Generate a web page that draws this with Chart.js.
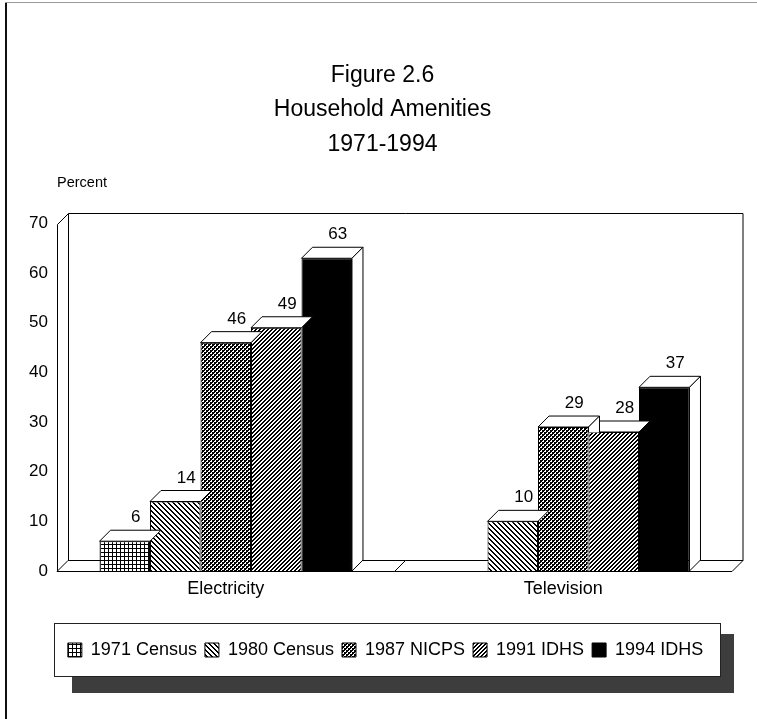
<!DOCTYPE html>
<html>
<head>
<meta charset="utf-8">
<title>Figure 2.6 Household Amenities 1971-1994</title>
<script src="https://cdn.jsdelivr.net/npm/chart.js@4/dist/chart.umd.min.js"></script>
<style>
html, body { margin: 0; padding: 0; background: #fff; }
</style>
</head>
<body>
<canvas id="chart" width="757" height="719"></canvas>
<script>
// data
var categories = ['Electricity', 'Television'];
var seriesNames = ['1971 Census', '1980 Census', '1987 NICPS', '1991 IDHS', '1994 IDHS'];
var census1971 = [6, null];
var census1980 = [14, 10];
var nicps1987 = [46, 29];
var idhs1991 = [49, 28];
var idhs1994 = [63, 37];
var yMin = 0, yMax = 70, yStep = 10;
var titleLines = ['Figure 2.6', 'Household Amenities', '1971-1994'];
var yAxisLabel = 'Percent';

var DX = 11, DY = 11; // fake 3d depth

Chart.defaults.font.family = '"Liberation Sans", Arial, Helvetica, sans-serif';
Chart.defaults.color = '#000';

/**
 * build a repeating b/w pattern from a pixel rule
 */
function makePattern(size, fn) {
    var c = document.createElement('canvas');
    c.width = size;
    c.height = size;
    var g = c.getContext('2d');
    g.fillStyle = '#fff';
    g.fillRect(0, 0, size, size);
    g.fillStyle = '#000';
    for(var x = 0; x < size; x++) {
        for(var y = 0; y < size; y++) {
            if(fn(x, y)) g.fillRect(x, y, 1, 1);
        }
    }
    return g.createPattern(c, 'repeat');
}

var fills = [
    makePattern(4, function(x, y) { return x == 0 || y == 0; }),                          // grid
    makePattern(5, function(x, y) { var d = (x - y + 5) % 5; return d == 0 || d == 1; }),  // \\\
    makePattern(4, function(x, y) {                                                        // dense check
        return ((x >> 1) + (y >> 1)) % 2 == 0 || (x % 2 == 0 && y % 2 == 0);
    }),
    makePattern(4, function(x, y) { return (x + y) % 4 < 2; }),                            // ///
    '#000'
];
var values = [census1971, census1980, nicps1987, idhs1991, idhs1994];

var datasets = [];
for(var i = 0; i < seriesNames.length; i++) {
    datasets.push({
        label: seriesNames[i],
        data: values[i],
        backgroundColor: fills[i],
        borderColor: '#000',
        borderWidth: 1,
        barPercentage: 1.0,
        categoryPercentage: 0.748,
    });
}

function poly(ctx, pts) {
    ctx.beginPath();
    ctx.moveTo(pts[0][0], pts[0][1]);
    for(var i = 1; i < pts.length; i++) ctx.lineTo(pts[i][0], pts[i][1]);
    ctx.closePath();
}

var box3d = {
    id: 'box3d',

    afterLayout: function(chart) {
        // nudge title and legend a bit right, legend down, like the print
        var tb = chart.titleBlock;
        tb.left += 13;
        tb.right += 13;

        var lg = chart.legend;
        var h = lg.bottom - lg.top;
        lg.left += 16;
        lg.right += 16;
        lg.top = chart.chartArea.bottom + 62;
        lg.bottom = lg.top + h;
    },

    beforeDraw: function(chart) {
        var ctx = chart.ctx;
        ctx.save();
        ctx.fillStyle = '#fff';
        ctx.fillRect(0, 0, chart.width, chart.height);

        // page frame
        ctx.fillStyle = '#111';
        ctx.fillRect(5, 2, 2, chart.height - 2);
        ctx.fillStyle = '#999';
        ctx.fillRect(5, 2, chart.width - 5, 1);

        // legend frame + drop shadow
        var lg = chart.legend;
        var pad = lg.options.labels.padding;
        var lw = lg.lineWidths[0];
        var x0 = (lg.left + pad + lg.right - lw) / 2;
        var mid = lg.top + pad + 9;
        var bl = Math.round(x0 - 14), br = Math.round(x0 + lw - pad + 17);
        var bt = Math.round(mid - 27), bb = Math.round(mid + 26);
        ctx.fillStyle = '#3d3d3d';
        ctx.fillRect(bl + 18, bb, br + 14 - bl - 18, 17);
        ctx.fillRect(br, bt + 11, 14, bb - bt - 11 + 17);
        ctx.fillStyle = '#fff';
        ctx.fillRect(bl, bt, br - bl, bb - bt);
        ctx.strokeStyle = '#222';
        ctx.lineWidth = 1;
        ctx.strokeRect(bl + 0.5, bt + 0.5, br - bl, bb - bt);
        ctx.restore();
    },

    beforeDatasetsDraw: function(chart) {
        var ctx = chart.ctx;
        var a = chart.chartArea;
        var L = Math.round(a.left) + 0.5, R = a.right, T = Math.round(a.top) + 0.5, B = Math.round(a.bottom) + 0.5;
        ctx.save();
        ctx.strokeStyle = '#000';
        ctx.lineWidth = 1;

        // back wall
        ctx.beginPath();
        ctx.moveTo(L + DX, B - DY);
        ctx.lineTo(L + DX, T - DY);
        ctx.lineTo(R + DX, T - DY);
        ctx.lineTo(R + DX, B - DY);
        ctx.stroke();

        // front axis
        ctx.beginPath();
        ctx.moveTo(L, B);
        ctx.lineTo(L, T);
        ctx.lineTo(L + DX, T - DY);
        ctx.stroke();

        // floor, one slab for each category
        var cw = (a.right - a.left) / categories.length;
        for(var i = 0; i < categories.length; i++) {
            var cl = a.left + i * cw, cr = cl + cw;
            poly(ctx, [[cl, B], [cl + DX, B - DY], [cr + DX, B - DY], [cr, B]]);
            ctx.fillStyle = '#fff';
            ctx.fill();
            ctx.stroke();
        }

        ctx.font = '14.5px "Liberation Sans", Arial, sans-serif';
        ctx.fillStyle = '#000';
        ctx.textAlign = 'left';
        ctx.textBaseline = 'middle';
        ctx.fillText(yAxisLabel, a.left, a.top - 41);
        ctx.restore();
    },

    afterDatasetsDraw: function(chart) {
        var ctx = chart.ctx;
        ctx.save();
        ctx.strokeStyle = '#000';
        ctx.lineWidth = 1;

        for(var c = 0; c < categories.length; c++) {
            var bars = [];
            for(var d = 0; d < values.length; d++) {
                if(values[d][c] == null) {
                    bars.push(null);
                    continue;
                }
                var p = chart.getDatasetMeta(d).data[c].getProps(['x', 'y', 'base', 'width'], true);
                bars.push({l: p.x - p.width / 2, r: p.x + p.width / 2, x: p.x, y: p.y, base: p.base, v: values[d][c]});
            }

            // tops
            for(var k = 0; k < bars.length; k++) {
                var b = bars[k];
                if(!b) continue;
                poly(ctx, [[b.l, b.y], [b.l + DX, b.y - DY], [b.r + DX, b.y - DY], [b.r, b.y]]);
                ctx.fillStyle = '#fff';
                ctx.fill();
                ctx.stroke();
            }

            // sides, hidden behind the next bar's front
            for(var k = 0; k < bars.length; k++) {
                var b = bars[k];
                if(!b) continue;
                var nx = bars[k + 1];
                ctx.save();
                if(nx) {
                    ctx.beginPath();
                    ctx.rect(b.r - 2, 0, DX + 4, nx.y + 0.5);
                    ctx.clip();
                }
                poly(ctx, [[b.r, b.y], [b.r + DX, b.y - DY], [b.r + DX, b.base - DY], [b.r, b.base]]);
                ctx.fillStyle = '#fff';
                ctx.fill();
                ctx.stroke();
                ctx.restore();
            }

            // value labels
            ctx.font = '17px "Liberation Sans", Arial, sans-serif';
            ctx.fillStyle = '#000';
            ctx.textAlign = 'center';
            ctx.textBaseline = 'alphabetic';
            for(var k = 0; k < bars.length; k++) {
                var b = bars[k];
                if(!b) continue;
                ctx.fillText(String(b.v), b.x + DX, b.y - DY - 8);
            }
        }
        ctx.restore();
    },
};

new Chart(document.getElementById('chart'), {
    type: 'bar',
    data: {
        labels: categories,
        datasets: datasets,
    },
    options: {
        responsive: false,
        animation: false,
        layout: {padding: {left: 7, right: 25, top: 0, bottom: 0}},
        plugins: {
            title: {
                display: true,
                text: titleLines,
                font: {size: 23, weight: 'normal', lineHeight: 1.5},
                color: '#000',
                padding: {top: 58, bottom: 62},
            },
            legend: {
                display: true,
                position: 'bottom',
                labels: {
                    font: {size: 18},
                    color: '#000',
                    boxWidth: 14,
                    boxHeight: 14,
                    padding: 8,
                },
            },
            tooltip: {enabled: false},
        },
        scales: {
            x: {
                grid: {display: false, drawTicks: false},
                border: {display: false},
                ticks: {font: {size: 18}, padding: 7, color: '#000'},
                afterFit: function(scale) {
                    scale.height = 148 - scale.chart.legend.height;
                },
            },
            y: {
                min: yMin,
                max: yMax,
                grid: {display: false, drawTicks: false},
                border: {display: false},
                ticks: {stepSize: yStep, font: {size: 17}, padding: 9, color: '#000'},
                afterFit: function(scale) {
                    scale.width = 50;
                },
            },
        },
    },
    plugins: [box3d],
});
</script>
</body>
</html>
